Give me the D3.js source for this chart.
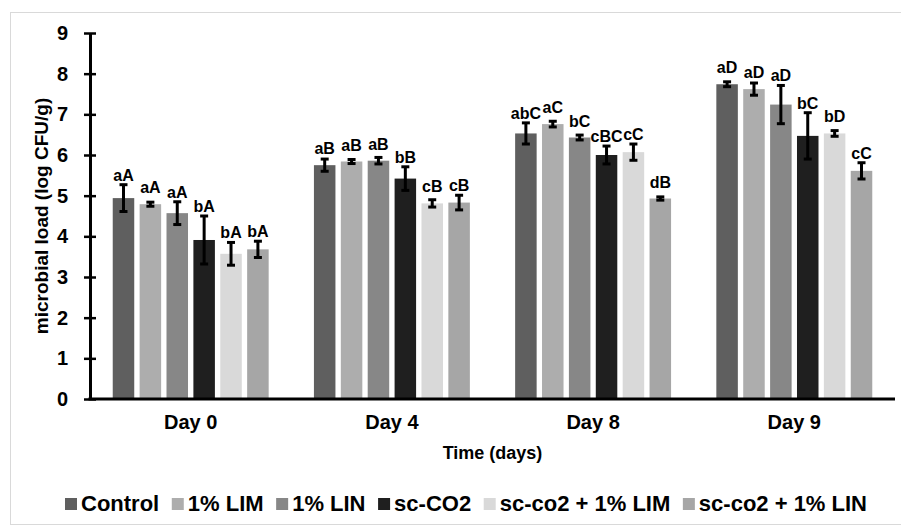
<!DOCTYPE html>
<html>
<head>
<meta charset="utf-8">
<script src="https://cdn.jsdelivr.net/npm/d3@7"></script>
<style>
  body { margin: 0; background: #fff; }
  svg text { font-family: "Liberation Sans", Arial, sans-serif; font-weight: bold; fill: #000; }
</style>
</head>
<body>
<div id="chart"></div>
<script>
// data
const days = ["Day 0", "Day 4", "Day 8", "Day 9"];
const treatments = ["Control", "1% LIM", "1% LIN", "sc-CO2", "sc-co2 + 1% LIM", "sc-co2 + 1% LIN"];
const colours = ["#5f5f5f", "#adadad", "#878787", "#1f1f1f", "#d9d9d9", "#a6a6a6"];

// one array per treatment, values for Day 0, 4, 8, 9
const control = [4.94, 5.75, 6.53, 7.74];
const lim = [4.79, 5.84, 6.76, 7.62];
const lin = [4.57, 5.86, 6.43, 7.24];
const sco2 = [3.91, 5.42, 6.00, 6.47];
const sco2Lim = [3.57, 4.81, 6.07, 6.53];
const sco2Lin = [3.68, 4.83, 4.93, 5.61];

// standard deviations (error bars)
const controlErr = [0.33, 0.15, 0.26, 0.06];
const limErr = [0.05, 0.05, 0.07, 0.15];
const linErr = [0.28, 0.08, 0.06, 0.47];
const sco2Err = [0.59, 0.29, 0.22, 0.57];
const sco2LimErr = [0.28, 0.09, 0.20, 0.07];
const sco2LinErr = [0.20, 0.18, 0.04, 0.20];

// letters over the bars
const controlLab = ["aA", "aB", "abC", "aD"];
const limLab = ["aA", "aB", "aC", "aD"];
const linLab = ["aA", "aB", "bC", "aD"];
const sco2Lab = ["bA", "bB", "cBC", "bC"];
const sco2LimLab = ["bA", "cB", "cC", "bD"];
const sco2LinLab = ["bA", "cB", "dB", "cC"];

const yTicks = [0, 1, 2, 3, 4, 5, 6, 7, 8, 9];

const values = [control, lim, lin, sco2, sco2Lim, sco2Lin];
const errors = [controlErr, limErr, linErr, sco2Err, sco2LimErr, sco2LinErr];
const labels = [controlLab, limLab, linLab, sco2Lab, sco2LimLab, sco2LinLab];

const W = 901, H = 527;
const margin = { left: 90, right: 895, top: 33, bottom: 399 };

const svg = d3.select("#chart").append("svg")
  .attr("width", W)
  .attr("height", H);

// light frame round the chart area
svg.append("rect")
  .attr("x", 10.5).attr("y", 12.5)
  .attr("width", 900).attr("height", 512)
  .attr("fill", "none")
  .attr("stroke", "#d9d9d9");

// scales
const x0 = d3.scaleBand().domain(days).range([margin.left, margin.right])
  .paddingInner(0.225).paddingOuter(0.113);
const x1 = d3.scaleBand().domain(treatments).range([0, x0.bandwidth()])
  .paddingInner(0.2).paddingOuter(0);
const y = d3.scaleLinear().domain([0, 9]).range([margin.bottom, margin.top]);

// flatten for drawing
const rows = [];
treatments.forEach((t, i) => {
  days.forEach((d, j) => {
    rows.push({ t: t, day: d, v: values[i][j], e: errors[i][j], lab: labels[i][j], c: colours[i] });
  });
});

// bars
svg.append("g").selectAll("rect")
  .data(rows)
  .enter()
  .append("rect")
  .attr("x", d => x0(d.day) + x1(d.t))
  .attr("y", d => y(d.v))
  .attr("width", x1.bandwidth())
  .attr("height", d => y(0) - y(d.v))
  .attr("fill", d => d.c);

// error bars
const capW = 4;
const eb = svg.append("g").attr("stroke", "#000").attr("stroke-width", 3);
rows.forEach(d => {
  const cx = x0(d.day) + x1(d.t) + x1.bandwidth() / 2;
  eb.append("line").attr("x1", cx).attr("x2", cx)
    .attr("y1", y(d.v + d.e)).attr("y2", y(d.v - d.e));
  eb.append("line").attr("x1", cx - capW).attr("x2", cx + capW)
    .attr("y1", y(d.v + d.e)).attr("y2", y(d.v + d.e));
  eb.append("line").attr("x1", cx - capW).attr("x2", cx + capW)
    .attr("y1", y(d.v - d.e)).attr("y2", y(d.v - d.e));
});

// letters
svg.append("g").selectAll("text")
  .data(rows)
  .enter()
  .append("text")
  .attr("x", d => x0(d.day) + x1(d.t) + x1.bandwidth() / 2)
  .attr("y", d => Math.min(y(d.v) - 11, y(d.v + d.e) - 4))
  .attr("text-anchor", "middle")
  .style("font-size", "16px")
  .text(d => d.lab);

// y axis
const yAxis = svg.append("g")
  .attr("transform", "translate(" + margin.left + ",0)")
  .call(d3.axisLeft(y).tickValues(yTicks).tickSizeOuter(0).tickPadding(16));
yAxis.attr("font-family", null).attr("font-size", null);
yAxis.select(".domain").attr("stroke", "#000").attr("stroke-width", 3);
yAxis.selectAll(".tick line").attr("x1", 6).attr("x2", -6).attr("stroke-width", 2.5);
yAxis.selectAll(".tick text").style("font-size", "20px");

// x axis
const xAxis = svg.append("g")
  .attr("transform", "translate(0," + margin.bottom + ")")
  .call(d3.axisBottom(x0).tickSize(0).tickSizeOuter(0).tickPadding(16));
xAxis.attr("font-family", null).attr("font-size", null);
xAxis.select(".domain").attr("stroke", "#000").attr("stroke-width", 3)
  .attr("d", "M" + (margin.left - 1.5) + ",0H" + margin.right);
xAxis.selectAll(".tick text").style("font-size", "20px");

// axis titles
svg.append("text")
  .attr("transform", "translate(48," + ((margin.top + margin.bottom) / 2) + ") rotate(-90)")
  .attr("text-anchor", "middle")
  .style("font-size", "19px")
  .text("microbial load (log CFU/g)");

svg.append("text")
  .attr("x", (margin.left + margin.right) / 2)
  .attr("y", 459)
  .attr("text-anchor", "middle")
  .style("font-size", "18px")
  .text("Time (days)");

// legend, spread between x = 65 and 867
const legend = svg.append("g");
const items = treatments.map((t, i) => {
  const g = legend.append("g");
  g.append("rect")
    .attr("y", 498)
    .attr("width", 12).attr("height", 12)
    .attr("fill", colours[i]);
  const tx = g.append("text")
    .attr("x", 16).attr("y", 511)
    .style("font-size", "22px")
    .text(t);
  return { g: g, w: 16 + tx.node().getComputedTextLength() };
});
const gap = (867 - 65 - d3.sum(items, d => d.w)) / (items.length - 1);
let lx = 65;
items.forEach(d => {
  d.g.attr("transform", "translate(" + lx + ",0)");
  lx += d.w + gap;
});
</script>
</body>
</html>
